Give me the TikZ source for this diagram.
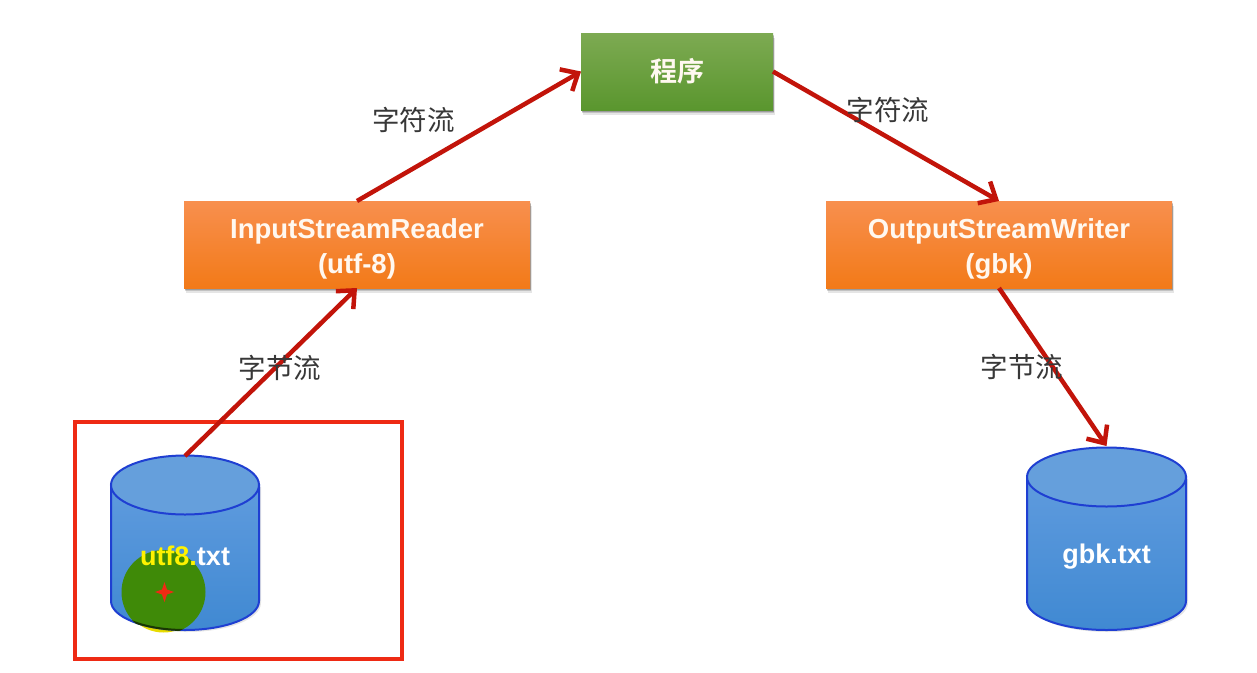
\documentclass[tikz,border=0pt]{standalone}
\usepackage{fontspec}
\setmainfont{Liberation Sans}
\newfontfamily\cjkfont{Noto Sans CJK SC}
\newfontfamily\cjkbold{Noto Sans CJK SC Bold}
\usetikzlibrary{arrows.meta,shadows}
\definecolor{arrowred}{HTML}{C2140A}
\definecolor{framered}{HTML}{EE2A14}
\definecolor{cylline}{HTML}{1F3FD2}
\definecolor{cyltop}{HTML}{659FDC}
\definecolor{cylupper}{HTML}{5F9BDE}
\definecolor{cyllower}{HTML}{4089D2}
\definecolor{cursorgreen}{HTML}{3F8A08}
\definecolor{OrangeTop}{HTML}{F88F4E}
\definecolor{OrangeBase}{HTML}{F27A18}
\definecolor{GreenTop}{HTML}{7DAA52}
\definecolor{GreenBase}{HTML}{5A962E}
\definecolor{boxtext}{HTML}{FFF8F0}
\tikzset{
  x=1pt,y=-1pt,
  softshadow/.style={
    drop shadow={shadow xshift=1.5pt,shadow yshift=-4.5pt,fill=black,opacity=.10},
    drop shadow={shadow xshift=1pt,shadow yshift=-3pt,fill=black,opacity=.15},
    drop shadow={shadow xshift=.5pt,shadow yshift=-1.5pt,fill=black,opacity=.20}},
  flowbox/.style={minimum height=87pt,minimum width=346pt,inner sep=0pt,outer sep=0pt,align=center,text=boxtext,
    font=\fontsize{27.5}{35}\selectfont\bfseries,
    top color=OrangeTop,bottom color=OrangeBase,softshadow},
  progbox/.style={minimum width=192pt,minimum height=77pt,inner sep=0pt,outer sep=0pt,text=boxtext,
    font=\fontsize{27}{32}\selectfont\cjkbold,
    top color=GreenTop,bottom color=GreenBase,softshadow},
  flow/.style={arrowred,line width=4.5pt,-{Straight Barb[length=14pt,width=25pt,line width=4.5pt]}},
  flowlabel/.style={text=black!78,font=\fontsize{27.5}{32}\selectfont\cjkfont,inner sep=0pt},
  filenode/.style={minimum width=148pt,minimum height=176pt,inner sep=0pt,outer sep=0pt,text=white,
    font=\fontsize{27}{30}\selectfont\bfseries},
  cylside/.style={draw=cylline,line width=2pt,top color=cylupper,bottom color=cyllower},
  cyllid/.style={draw=cylline,line width=2pt,fill=cyltop},
}
\newcommand{\filecyl}[4]{% center x, half width, lid centre y, base centre y
  \path[fill=black,opacity=.10] (#1-#2+2,#3+2) -- (#1-#2+2,#4+2) arc[start angle=180,end angle=360,x radius=#2,y radius=-29] -- (#1+#2+2,#3+2) -- cycle;
  \path[cylside] (#1-#2,#3) -- (#1-#2,#4) arc[start angle=180,end angle=360,x radius=#2,y radius=-29] -- (#1+#2,#3) -- cycle;
  \path[cyllid] (#1,#3) ellipse[x radius=#2,y radius=29.5];
}
\begin{document}
\begin{tikzpicture}
\useasboundingbox (0,0) rectangle (1257,672);
\fill[white] (0,0) rectangle (1257,672);

\draw[framered,line width=4.5pt] (75,422) rectangle (402,659);

% cursor halo sliver below the cylinder, then the cylinders
\fill[yellow!80!olive] (163.5,591.5) circle[radius=41];
\filecyl{185}{74}{485}{601}
\filecyl{1106.5}{79.5}{477}{601}

% cursor highlight, seen through the cylinder body
\begin{scope}
  \clip (111,485) -- (111,601) arc[start angle=180,end angle=360,x radius=74,y radius=-29] -- (259,485) -- cycle;
  \fill[cursorgreen] (163.5,592) circle[radius=42];
\end{scope}
\begin{scope}
  \clip (163.5,592) circle[radius=42];
  \draw[black!60!cursorgreen,line width=2pt] (111,601) arc[start angle=180,end angle=360,x radius=74,y radius=-29];
\end{scope}

\node[progbox] (prog) at (677,71.5) {程序};
\node[flowbox] (reader) at (357,244.5) {\rule{0pt}{29pt}InputStreamReader\\(utf-8)};
\node[flowbox] (writer) at (999,244.5) {\rule{0pt}{29pt}OutputStreamWriter\\(gbk)};

\node[filenode] (utf8) at (185,544) {\raisebox{-21pt}[0pt][0pt]{\textcolor{yellow}{utf8.}txt}};
\node[filenode,minimum width=159pt,minimum height=184pt] (gbk) at (1106.5,538) {\raisebox{-25pt}[0pt][0pt]{gbk.txt}};

\draw[flow] (utf8.north) -- (reader.south);
\draw[flow] (reader.north) -- (prog.west);
\draw[flow] (prog.east) -- (writer.north);
\draw[flow] (writer.south) -- (gbk.north);

\node[flowlabel] (lab1) at (413.5,120) {字符流};
\node[flowlabel] (lab2) at (888,110) {字符流};
\node[flowlabel] (lab3) at (280,368) {字节流};
\node[flowlabel] (lab4) at (1022,367) {字节流};

% red cursor cross
\fill[framered] (164.5,582) -- (167,589.5) -- (174,592) -- (167,594.5) -- (164.5,602) -- (162,594.5) -- (155,592) -- (162,589.5) -- cycle;
\end{tikzpicture}
\end{document}
